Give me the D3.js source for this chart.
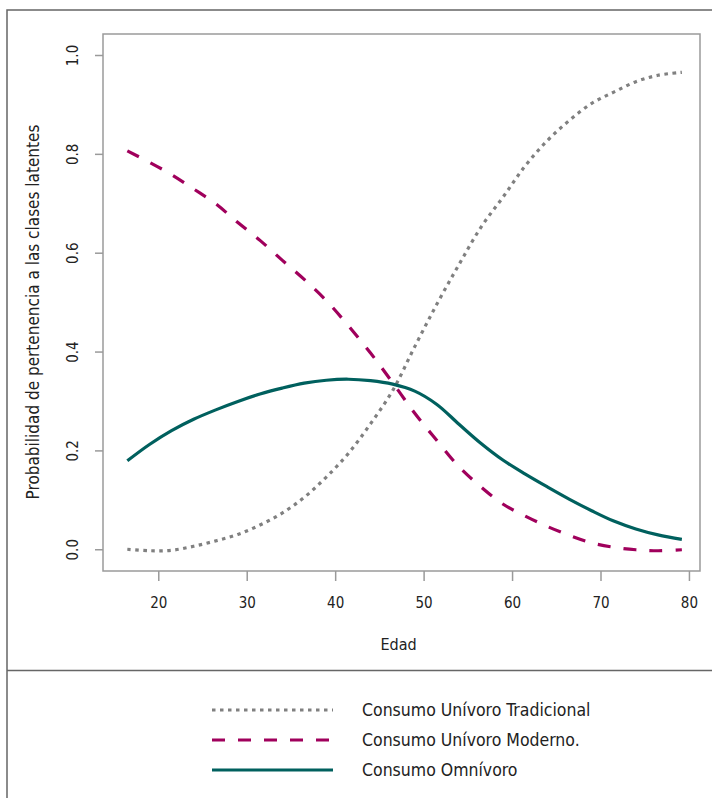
<!DOCTYPE html>
<html>
<head>
<meta charset="utf-8">
<script src="https://cdn.jsdelivr.net/npm/d3@7"></script>
<style>
  body { margin: 0; background: #fff; }
  text { font-family: "Liberation Sans Narrow", "DejaVu Sans Condensed", "Roboto", sans-serif; fill: #222; }
</style>
</head>
<body>
<svg id="chart" width="712" height="798"></svg>
<script>
const ages = [16.5, 19, 21.5, 24, 26.5, 29, 31.5, 34, 36.5, 39, 41.5, 44, 46.5,
  49, 51.5, 54, 56.5, 59, 61.5, 64, 66.5, 69, 71.5, 74, 76.5, 79.2];

const tradicional = [0.000, -0.003, -0.002, 0.006, 0.017, 0.030, 0.049, 0.073, 0.105,
  0.146, 0.194, 0.254, 0.321, 0.410, 0.496, 0.576, 0.652, 0.713, 0.776, 0.827,
  0.868, 0.902, 0.925, 0.946, 0.959, 0.965];

const moderno = [0.806, 0.783, 0.758, 0.729, 0.699, 0.661, 0.625, 0.585, 0.546,
  0.503, 0.452, 0.397, 0.337, 0.275, 0.220, 0.167, 0.126, 0.091, 0.067, 0.046,
  0.028, 0.013, 0.004, -0.001, -0.003, -0.001];

const omnivoro = [0.179, 0.212, 0.240, 0.263, 0.282, 0.299, 0.314, 0.326, 0.336,
  0.342, 0.344, 0.341, 0.334, 0.320, 0.293, 0.253, 0.214, 0.180, 0.152, 0.126,
  0.101, 0.078, 0.057, 0.041, 0.029, 0.020];

const xTicks = [20, 30, 40, 50, 60, 70, 80];
const yTicks = [0, 0.2, 0.4, 0.6, 0.8, 1.0];

const seriesNames = ["Consumo Unívoro Tradicional", "Consumo Unívoro Moderno.", "Consumo Omnívoro"];

const series = [
  { name: seriesNames[0], values: tradicional, color: "#808080", dash: "3.5,4.5" },
  { name: seriesNames[1], values: moderno, color: "#a0005c", dash: "13,13" },
  { name: seriesNames[2], values: omnivoro, color: "#00605e", dash: null },
];

const svg = d3.select("#chart");

// plot box
const box = { left: 103, top: 34, right: 700, bottom: 571 };

const xScale = d3.scaleLinear().domain([13.75, 81.25]).range([box.left, box.right]);
const yScale = d3.scaleLinear().domain([-0.044, 1.0425]).range([box.bottom, box.top]);

// outer frame lines
svg.append("path")
  .attr("d", "M7,798 V10 H712")
  .attr("fill", "none")
  .attr("stroke", "#666")
  .attr("stroke-width", 1.5);
svg.append("line")
  .attr("x1", 7).attr("x2", 712)
  .attr("y1", 670.5).attr("y2", 670.5)
  .attr("stroke", "#666")
  .attr("stroke-width", 1.5);

svg.append("rect")
  .attr("x", box.left).attr("y", box.top)
  .attr("width", box.right - box.left)
  .attr("height", box.bottom - box.top)
  .attr("fill", "none")
  .attr("stroke", "#9a9a9a")
  .attr("stroke-width", 1.5);

// x axis
const gx = svg.append("g")
  .attr("transform", `translate(0,${box.bottom})`)
  .call(d3.axisBottom(xScale).tickValues(xTicks).tickSize(10).tickPadding(16).tickSizeOuter(0));
gx.select(".domain").remove();
gx.selectAll("line").attr("stroke", "#9a9a9a").attr("stroke-width", 1.5);
gx.selectAll("text").style("font-size", "15px").attr("fill", "#222");

// y axis
const gy = svg.append("g")
  .attr("transform", `translate(${box.left},0)`)
  .call(d3.axisLeft(yScale).tickValues(yTicks).tickSize(8).tickFormat(d3.format(".1f")));
gy.select(".domain").remove();
gy.selectAll("line").attr("stroke", "#9a9a9a").attr("stroke-width", 1.5);
gy.selectAll("text")
  .style("font-size", "15px")
  .attr("fill", "#222")
  .attr("x", null).attr("dy", null)
  .attr("text-anchor", "middle")
  .attr("dominant-baseline", "central")
  .attr("transform", "translate(-30,0) rotate(-90)");

// axis titles
svg.append("text")
  .attr("x", (box.left + box.right) / 2 - 3)
  .attr("y", 650)
  .attr("text-anchor", "middle")
  .style("font-size", "16px")
  .text("Edad");

svg.append("text")
  .attr("transform", "translate(39,312) rotate(-90)")
  .attr("text-anchor", "middle")
  .style("font-size", "17px")
  .text("Probabilidad de pertenencia a las clases latentes");

// curves
const line = d3.line()
  .x((d) => xScale(d[0]))
  .y((d) => yScale(d[1]))
  .curve(d3.curveCatmullRom);

svg.append("g")
  .selectAll("path")
  .data(series)
  .join("path")
  .attr("d", (s) => line(ages.map((a, i) => [a, s.values[i]])))
  .attr("fill", "none")
  .attr("stroke", (s) => s.color)
  .attr("stroke-width", 3.2)
  .attr("stroke-dasharray", (s) => s.dash);

// legend
const legend = svg.append("g");
const legendRows = legend.selectAll("g")
  .data(series)
  .join("g")
  .attr("transform", (d, i) => `translate(0,${710 + i * 30})`);

legendRows.append("line")
  .attr("x1", 212).attr("x2", 333)
  .attr("stroke", (s) => s.color)
  .attr("stroke-width", 3.2)
  .attr("stroke-dasharray", (s) => s.dash);

legendRows.append("text")
  .attr("x", 362)
  .attr("dy", "0.35em")
  .style("font-size", "17.5px")
  .text((s) => s.name);
</script>
</body>
</html>
